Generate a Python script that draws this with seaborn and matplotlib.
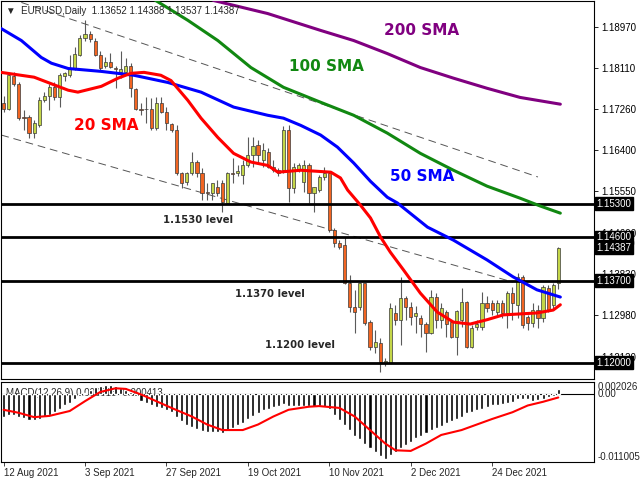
import numpy as np
import matplotlib
matplotlib.use("Agg")
import matplotlib.pyplot as plt
from matplotlib.transforms import blended_transform_factory
import seaborn as sns

sns.set_style("white")
plt.rcParams['font.family'] = ['Liberation Sans', 'DejaVu Sans']

# ---- data ----
date_idx = [0, 16, 32, 48, 64, 80, 96]
date_labels = ["12 Aug 2021", "3 Sep 2021", "27 Sep 2021", "19 Oct 2021",
               "10 Nov 2021", "2 Dec 2021", "24 Dec 2021"]

opens = [1.1738, 1.1727, 1.1794, 1.1777, 1.1709, 1.1709, 1.1676, 1.1692, 1.1744, 1.1754,
         1.1771, 1.1750, 1.1794, 1.1796, 1.1810, 1.1837, 1.1874, 1.1881, 1.1868, 1.1837,
         1.1816, 1.1823, 1.1812, 1.1802, 1.1802, 1.1816, 1.1767, 1.1725, 1.1725, 1.1725,
         1.1686, 1.1738, 1.1719, 1.1694, 1.1682, 1.1593, 1.1574, 1.1593, 1.1616, 1.1593,
         1.1554, 1.1551, 1.1564, 1.1572, 1.1531, 1.1593, 1.1593, 1.1589, 1.1609, 1.1630,
         1.1651, 1.1620, 1.1636, 1.1605, 1.1599, 1.1599, 1.1682, 1.1562, 1.1599, 1.1574,
         1.1609, 1.1551, 1.1558, 1.1585, 1.1593, 1.1475, 1.1448, 1.1444, 1.1365, 1.1316,
         1.1316, 1.1365, 1.1284, 1.1233, 1.1241, 1.1200, 1.1200, 1.1303, 1.1289, 1.1334,
         1.1316, 1.1297, 1.1293, 1.1280, 1.1262, 1.1336, 1.1289, 1.1305, 1.1284, 1.1253,
         1.1289, 1.1326, 1.1233, 1.1274, 1.1274, 1.1324, 1.1324, 1.1305, 1.1324, 1.1303,
         1.1345, 1.1320, 1.1378, 1.1295, 1.1282, 1.1309, 1.1293, 1.1355, 1.1320, 1.13652]
highs = [1.1752, 1.1800, 1.1802, 1.1781, 1.1723, 1.1713, 1.1703, 1.1750, 1.1761, 1.1777,
         1.1781, 1.1800, 1.1802, 1.1837, 1.1854, 1.1879, 1.1910, 1.1887, 1.1874, 1.1847,
         1.1833, 1.1843, 1.1816, 1.1847, 1.1831, 1.1821, 1.1769, 1.1738, 1.1750, 1.1748,
         1.1750, 1.1750, 1.1730, 1.1698, 1.1692, 1.1595, 1.1595, 1.1636, 1.1620, 1.1603,
         1.1572, 1.1573, 1.1578, 1.1578, 1.1595, 1.1624, 1.1609, 1.1620, 1.1667, 1.1667,
         1.1661, 1.1655, 1.1645, 1.1620, 1.1603, 1.1690, 1.1692, 1.1614, 1.1614, 1.1620,
         1.1614, 1.1565, 1.1589, 1.1605, 1.1595, 1.1479, 1.1454, 1.1460, 1.1382, 1.1351,
         1.1366, 1.1366, 1.1289, 1.1268, 1.1251, 1.1210, 1.1324, 1.1320, 1.1378, 1.1338,
         1.1326, 1.1318, 1.1299, 1.1284, 1.1351, 1.1345, 1.1324, 1.1309, 1.1289, 1.1309,
         1.1355, 1.1328, 1.1278, 1.1289, 1.1347, 1.1338, 1.1330, 1.1330, 1.1330, 1.1349,
         1.1357, 1.1386, 1.1382, 1.1299, 1.1324, 1.1320, 1.1361, 1.1361, 1.1365, 1.14388]
lows = [1.1719, 1.1723, 1.1773, 1.1703, 1.1682, 1.1665, 1.1665, 1.1688, 1.1740, 1.1723,
        1.1744, 1.1730, 1.1785, 1.1792, 1.1806, 1.1835, 1.1868, 1.1864, 1.1835, 1.1806,
        1.1812, 1.1812, 1.1769, 1.1790, 1.1800, 1.1750, 1.1723, 1.1713, 1.1696, 1.1682,
        1.1682, 1.1717, 1.1682, 1.1678, 1.1589, 1.1562, 1.1568, 1.1589, 1.1585, 1.1537,
        1.1537, 1.1537, 1.1545, 1.1512, 1.1529, 1.1572, 1.1587, 1.1570, 1.1605, 1.1605,
        1.1614, 1.1605, 1.1603, 1.1595, 1.1587, 1.1593, 1.1533, 1.1551, 1.1595, 1.1554,
        1.1531, 1.1512, 1.1554, 1.1578, 1.1471, 1.1440, 1.1436, 1.1363, 1.1305, 1.1262,
        1.1309, 1.1278, 1.1226, 1.1220, 1.1181, 1.1193, 1.1199, 1.1278, 1.1237, 1.1289,
        1.1278, 1.1262, 1.1253, 1.1222, 1.1260, 1.1272, 1.1272, 1.1253, 1.1251, 1.1216,
        1.1274, 1.1231, 1.1231, 1.1268, 1.1268, 1.1305, 1.1299, 1.1299, 1.1293, 1.1272,
        1.1289, 1.1293, 1.1272, 1.1268, 1.1274, 1.1272, 1.1284, 1.1305, 1.1309, 1.13537]
closes = [1.1727, 1.1796, 1.1777, 1.1707, 1.1707, 1.1676, 1.1696, 1.1744, 1.1754, 1.1771,
          1.1750, 1.1796, 1.1800, 1.1810, 1.1841, 1.1874, 1.1881, 1.1872, 1.1837, 1.1812,
          1.1823, 1.1814, 1.1810, 1.1810, 1.1816, 1.1769, 1.1725, 1.1724, 1.1726, 1.1686,
          1.1738, 1.1719, 1.1696, 1.1682, 1.1593, 1.1572, 1.1593, 1.1616, 1.1593, 1.1551,
          1.1552, 1.1572, 1.1551, 1.1533, 1.1593, 1.1592, 1.1597, 1.1609, 1.1630, 1.1649,
          1.1630, 1.1640, 1.1605, 1.1599, 1.1593, 1.1682, 1.1562, 1.1605, 1.1609, 1.1609,
          1.1551, 1.1564, 1.1585, 1.1593, 1.1475, 1.1448, 1.1440, 1.1365, 1.1316, 1.1305,
          1.1365, 1.1282, 1.1233, 1.1243, 1.1202, 1.1204, 1.1313, 1.1289, 1.1334, 1.1316,
          1.1295, 1.1303, 1.1280, 1.1262, 1.1336, 1.1289, 1.1313, 1.1280, 1.1253, 1.1307,
          1.1326, 1.1233, 1.1272, 1.1280, 1.1324, 1.1313, 1.1309, 1.1324, 1.1303, 1.1345,
          1.1324, 1.1378, 1.1278, 1.1282, 1.1309, 1.1293, 1.1357, 1.1309, 1.1361, 1.14387]

# moving averages (bar index, price)
sma20_idx = [-0.5, 6.0, 12.7, 14.6, 19.2, 22.5, 25.0, 27.6, 30.9, 32.9, 36.2, 38.8, 42.1,
             45.2, 48.6, 51.9, 53.9, 58.4, 64.3, 66.2, 67.6, 70.1, 72.1, 74.1, 76.0, 78.6,
             81.9, 85.2, 88.4, 91.7, 95.0, 98.2, 101.5, 104.8, 108.0, 109.4]
sma20_val = [1.1802, 1.1792, 1.1765, 1.1761, 1.1773, 1.1790, 1.1800, 1.1802, 1.1796, 1.1785,
             1.1744, 1.1707, 1.1667, 1.1634, 1.1616, 1.1609, 1.1595, 1.1599, 1.1595, 1.1583,
             1.1558, 1.1527, 1.1500, 1.1460, 1.1429, 1.1392, 1.1344, 1.1305, 1.1284, 1.1280,
             1.1289, 1.1299, 1.1301, 1.1303, 1.1309, 1.1320]
sma50_idx = [-0.5, 3.5, 7.4, 9.4, 12.7, 19.2, 25.6, 32.3, 38.8, 45.2, 51.9, 55.0, 58.4,
             62.3, 65.6, 68.8, 72.1, 75.4, 77.4, 83.3, 88.4, 95.0, 100.1, 104.8, 109.4]
sma50_val = [1.1893, 1.1868, 1.1833, 1.1821, 1.1810, 1.1804, 1.1796, 1.1781, 1.1761, 1.1730,
             1.1713, 1.1707, 1.1692, 1.1672, 1.1647, 1.1614, 1.1576, 1.1543, 1.1531, 1.1481,
             1.1454, 1.1413, 1.1378, 1.1351, 1.1336]
sma100_idx = [27.0, 29.9, 36.2, 42.1, 48.6, 55.0, 62.3, 68.8, 75.4, 81.9, 88.4, 95.0,
              101.5, 105.4, 109.4]
sma100_val = [1.1972, 1.1951, 1.1910, 1.1868, 1.1812, 1.1771, 1.1740, 1.1713, 1.1676,
              1.1634, 1.1599, 1.1566, 1.1541, 1.1525, 1.1510]
sma200_idx = [36.8, 41.3, 51.9, 62.3, 68.8, 75.4, 81.9, 88.4, 95.0, 101.5, 109.4]
sma200_val = [1.1976, 1.1951, 1.1924, 1.1889, 1.1868, 1.1841, 1.1812, 1.1790, 1.1769,
              1.1750, 1.1736]

# dashed channel
chan_up_idx = [3.5, 105.0]
chan_up_val = [1.1947, 1.1585]
chan_lo_idx = [-0.45, 100.1]
chan_lo_val = [1.1672, 1.1367]

levels = [1.1530, 1.1460, 1.1370, 1.1200]
level_tags = ["1.15300", "1.14600", "1.13700", "1.12000"]
last_price = 1.14387
price_ticks = [1.18970, 1.18110, 1.17260, 1.16400, 1.15550, 1.14690, 1.13830, 1.12980, 1.12120]

macd_hist = [-0.0037, -0.0033, -0.0033, -0.0036, -0.0039, -0.0041, -0.0042, -0.0040, -0.0036, -0.0033,
             -0.0028, -0.0024, -0.0018, -0.0014, -0.0008, -0.0003, 0.0003, 0.0008, 0.0012, 0.0014,
             0.0015, 0.0015, 0.0013, 0.0011, 0.0008, 0.0004, -0.0003, -0.0011, -0.0014, -0.0017,
             -0.0020, -0.0022, -0.0025, -0.0029, -0.0036, -0.0044, -0.0049, -0.0053, -0.0057, -0.0059,
             -0.0061, -0.0061, -0.0062, -0.0063, -0.0059, -0.0055, -0.0049, -0.0046, -0.0040, -0.0035,
             -0.0030, -0.0026, -0.0024, -0.0020, -0.0019, -0.0016, -0.0019, -0.0019, -0.0019, -0.0019,
             -0.0019, -0.0020, -0.0019, -0.0020, -0.0024, -0.0033, -0.0041, -0.0049, -0.0058, -0.0068,
             -0.0073, -0.0081, -0.0087, -0.0093, -0.0101, -0.0105, -0.0099, -0.0094, -0.0088, -0.0082,
             -0.0077, -0.0071, -0.0068, -0.0063, -0.0058, -0.0055, -0.0051, -0.0047, -0.0044, -0.0040,
             -0.0036, -0.0031, -0.0028, -0.0026, -0.0023, -0.0020, -0.0018, -0.0018, -0.0016, -0.0014,
             -0.0012, -0.0008, -0.0007, -0.0007, -0.0011, -0.0009, -0.0007, -0.0004, -0.0003, 0.0009]
signal_idx = [0, 3, 6, 9, 13, 16, 19, 22, 24, 27, 30, 33, 37, 40, 43, 47, 50, 53, 56, 60,
              62, 66, 69, 72, 75, 77, 80, 83, 86, 90, 93, 96, 100, 103, 106, 109]
signal_val = [-0.0025, -0.0030, -0.0037, -0.0035, -0.0027, -0.0011, 0.0004, 0.0010, 0.0009, 0.0,
              -0.0011, -0.0022, -0.0036, -0.0049, -0.0058, -0.0058, -0.0049, -0.0036, -0.0025, -0.0020,
              -0.0019, -0.0022, -0.0036, -0.0058, -0.0080, -0.0091, -0.0092, -0.0080, -0.0066, -0.0058,
              -0.0049, -0.0040, -0.0029, -0.0018, -0.0012, -0.0005]

bull_col = "#c4d648"
bear_col = "#f26522"
bold_font = ['DejaVu Sans']

fig = plt.figure(figsize=(6.4, 4.8), dpi=100)
ax = fig.add_axes([0.002, 0.2104, 0.926, 0.7885])
axm = fig.add_axes([0.002, 0.0375, 0.926, 0.1667])

# ---- candles ----
x = np.arange(len(opens))
o = np.array(opens); c = np.array(closes)
ax.vlines(x, lows, highs, color="#5a5a5a", lw=0.8, zorder=2)
up = c >= o
bottoms = np.minimum(o, c)
heights = np.maximum(np.abs(c - o), 0.00006)
ax.bar(x[up], heights[up], bottom=bottoms[up], width=0.62, color=bull_col,
       edgecolor="#3a3a3a", linewidth=0.5, zorder=3)
ax.bar(x[~up], heights[~up], bottom=bottoms[~up], width=0.62, color=bear_col,
       edgecolor="#3a3a3a", linewidth=0.5, zorder=3)

# channel
ax.plot(chan_up_idx, chan_up_val, color="#555555", lw=0.7, ls=(0, (8, 5)), zorder=2)
ax.plot(chan_lo_idx, chan_lo_val, color="#555555", lw=0.7, ls=(0, (8, 5)), zorder=2)

# moving averages
sns.lineplot(x=sma200_idx, y=sma200_val, ax=ax, color="#800080", lw=2.2, sort=False, zorder=5)
sns.lineplot(x=sma100_idx, y=sma100_val, ax=ax, color="#118811", lw=2.2, sort=False, zorder=5)
sns.lineplot(x=sma50_idx, y=sma50_val, ax=ax, color="#0000ff", lw=2.2, sort=False, zorder=5)
sns.lineplot(x=sma20_idx, y=sma20_val, ax=ax, color="#ff0000", lw=2.2, sort=False, zorder=5)

# horizontal levels
trans = blended_transform_factory(ax.transAxes, ax.transData)
for lv, tag in zip(levels, level_tags):
    ax.axhline(lv, color="black", lw=2.0, zorder=4)
    ax.text(1.004, lv, tag, transform=trans, color="white", fontsize=7, va="center",
            ha="left", zorder=10, clip_on=False,
            bbox=dict(boxstyle="square,pad=0.18", fc="black", ec="black"))
ax.text(1.004, last_price, f"{last_price:.5f}", transform=trans, color="white", fontsize=7,
        va="center", ha="left", zorder=10, clip_on=False,
        bbox=dict(boxstyle="square,pad=0.18", fc="black", ec="black"))

# labels on chart
ax.text(82.1, 1.1889, "200 SMA", color="#800080", fontsize=11, fontweight="bold", ha="center", va="center", family=bold_font)
ax.text(63.5, 1.1814, "100 SMA", color="#118811", fontsize=11, fontweight="bold", ha="center", va="center", family=bold_font)
ax.text(20.1, 1.1692, "20 SMA", color="#ff0000", fontsize=11, fontweight="bold", ha="center", va="center", family=bold_font)
ax.text(82.3, 1.1585, "50 SMA", color="#0000ff", fontsize=11, fontweight="bold", ha="center", va="center", family=bold_font)
ax.text(38.2, 1.1496, "1.1530 level", fontsize=7.3, fontweight="bold", ha="center", va="center", family=bold_font)
ax.text(52.3, 1.1342, "1.1370 level", fontsize=7.3, fontweight="bold", ha="center", va="center", family=bold_font)
ax.text(58.3, 1.1237, "1.1200 level", fontsize=7.3, fontweight="bold", ha="center", va="center", family=bold_font)
ax.text(0.008, 0.985, "\u25bc  EURUSD,Daily  1.13652 1.14388 1.13537 1.14387", transform=ax.transAxes,
        fontsize=7, ha="left", va="top", zorder=10)

ax.set_xlim(-0.45, 116)
ax.set_ylim(1.1166, 1.1951)
ax.yaxis.tick_right()
ax.set_yticks(price_ticks)
ax.set_yticklabels([f"{t:.5f}" for t in price_ticks])
ax.tick_params(axis="y", labelsize=7, length=3, width=0.6, pad=2, colors="black", right=True)
ax.set_xticks([])
ax.set_xlabel("")
ax.set_ylabel("")
for sp in ax.spines.values():
    sp.set_color("black")
    sp.set_linewidth(0.8)

# ---- MACD ----
axm.bar(x, macd_hist, width=0.6, color="black", zorder=2)
axm.axhline(0, color="black", lw=0.8, zorder=1)
sns.lineplot(x=signal_idx, y=signal_val, ax=axm, color="#ff0000", lw=1.5, sort=False, zorder=3)
axm.set_xlim(-0.45, 116)
axm.set_ylim(-0.011005, 0.002026)
axm.set_yticks([])
axm.set_ylabel("")
transm = blended_transform_factory(axm.transAxes, axm.transData)
axm.text(1.006, 0.002026, "0.002026", transform=transm, fontsize=7, va="top", ha="left", clip_on=False)
axm.text(1.006, 0.0, "0.00", transform=transm, fontsize=7, va="center", ha="left", clip_on=False)
axm.text(1.006, -0.011005, "-0.011005", transform=transm, fontsize=7, va="bottom", ha="left", clip_on=False)
axm.text(0.008, 0.93, "MACD(12,26,9) 0.000913 -0.000413", transform=axm.transAxes,
         fontsize=7, ha="left", va="top", zorder=1)
axm.set_xticks(date_idx)
axm.set_xticklabels(date_labels, ha="left")
axm.tick_params(axis="x", labelsize=7, length=3, width=0.6, pad=1, bottom=True)
for sp in axm.spines.values():
    sp.set_color("black")
    sp.set_linewidth(0.8)

fig.savefig("out.png", dpi=100)
